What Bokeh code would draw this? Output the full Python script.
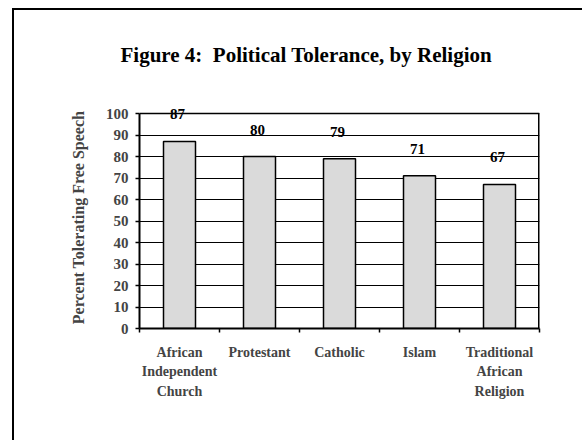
from bokeh.plotting import figure
from bokeh.models import (ColumnDataSource, FixedTicker, LabelSet, Title, Range1d)
from bokeh.embed import file_html
from bokeh.resources import INLINE

categories = ["African\nIndependent\nChurch", "Protestant", "Catholic", "Islam",
              "Traditional\nAfrican\nReligion"]
values = [87, 80, 79, 71, 67]
y_ticks = [0, 10, 20, 30, 40, 50, 60, 70, 80, 90, 100]
title_text = "Figure 4:\u00a0 Political Tolerance, by Religion"
y_label = "Percent Tolerating Free Speech"

FONT = "Liberation Serif"
n = len(categories)
centers = [i + 0.5 for i in range(n)]
bounds = list(range(n + 1))
ymax = y_ticks[-1]

src = ColumnDataSource(dict(x=centers, top=values, lab=[str(v) for v in values]))

p = figure(width=582, height=440, output_backend="svg", toolbar_location=None,
           x_range=Range1d(0, n), y_range=Range1d(0, ymax * 1.0327),
           min_border_left=139, min_border_right=43, min_border_top=106,
           min_border_bottom=112)
p.background_fill_color = "white"
p.border_fill_color = None
p.outline_line_color = None
p.styles = {
    "background": "linear-gradient(#000, #000) 12px 8px / 2px 100% no-repeat, "
                  "linear-gradient(#000, #000) 12px 8px / 100% 2px no-repeat, #fff"
}

# grid
p.xgrid.visible = False
p.ygrid.grid_line_color = "black"
p.ygrid.grid_line_width = 1
p.ygrid.ticker = FixedTicker(ticks=y_ticks)

# plot-area border (top and right)
p.segment(x0=[0], y0=[ymax], x1=[n], y1=[ymax], line_color="black", line_width=1.5)
p.segment(x0=[n], y0=[0], x1=[n], y1=[ymax], line_color="black", line_width=3)

p.vbar(x="x", top="top", width=0.4, source=src, fill_color="#dadada",
       line_color="black", line_width=1.5)

p.add_layout(LabelSet(x="x", y="top", text="lab", source=src, y_offset=27, x_offset=-2,
                      text_align="center", text_baseline="middle",
                      text_font=FONT, text_font_style="bold", text_font_size="15px",
                      text_color="black"))

# y axis
p.yaxis.ticker = FixedTicker(ticks=y_ticks)
p.yaxis.bounds = (0, ymax)
p.yaxis.axis_line_width = 2
p.yaxis.major_tick_in = 0
p.yaxis.major_tick_out = 4
p.yaxis.major_tick_line_width = 1.5
p.yaxis.minor_tick_line_color = None
p.yaxis.major_label_text_font = FONT
p.yaxis.major_label_text_font_style = "bold"
p.yaxis.major_label_text_font_size = "15px"
p.yaxis.major_label_standoff = 7
p.yaxis.axis_label = y_label
p.yaxis.axis_label_text_font = FONT
p.yaxis.axis_label_text_font_style = "bold"
p.yaxis.axis_label_text_font_size = "16px"
p.yaxis.axis_label_standoff = 16

# x axis
p.xaxis.ticker = FixedTicker(ticks=centers, minor_ticks=bounds)
p.xaxis.major_label_overrides = {c: lab for c, lab in zip(centers, categories)}
p.xaxis.axis_line_width = 2
p.xaxis.major_tick_line_color = None
p.xaxis.minor_tick_in = 0
p.xaxis.minor_tick_out = 4
p.xaxis.minor_tick_line_width = 1.5
p.xaxis.major_label_text_font = FONT
p.xaxis.major_label_text_font_style = "bold"
p.xaxis.major_label_text_font_size = "14px"
p.xaxis.major_label_text_line_height = 1.3
p.xaxis.major_label_standoff = 10

# title
t_kwargs = dict(text=title_text, align="left", offset=-19, text_font=FONT,
                text_font_style="bold", text_font_size="21px", text_color="black")
if "standoff" in Title.properties():
    t_kwargs["standoff"] = 79
p.title = Title(**t_kwargs)

open("out.html", "w").write(file_html(p, INLINE))
